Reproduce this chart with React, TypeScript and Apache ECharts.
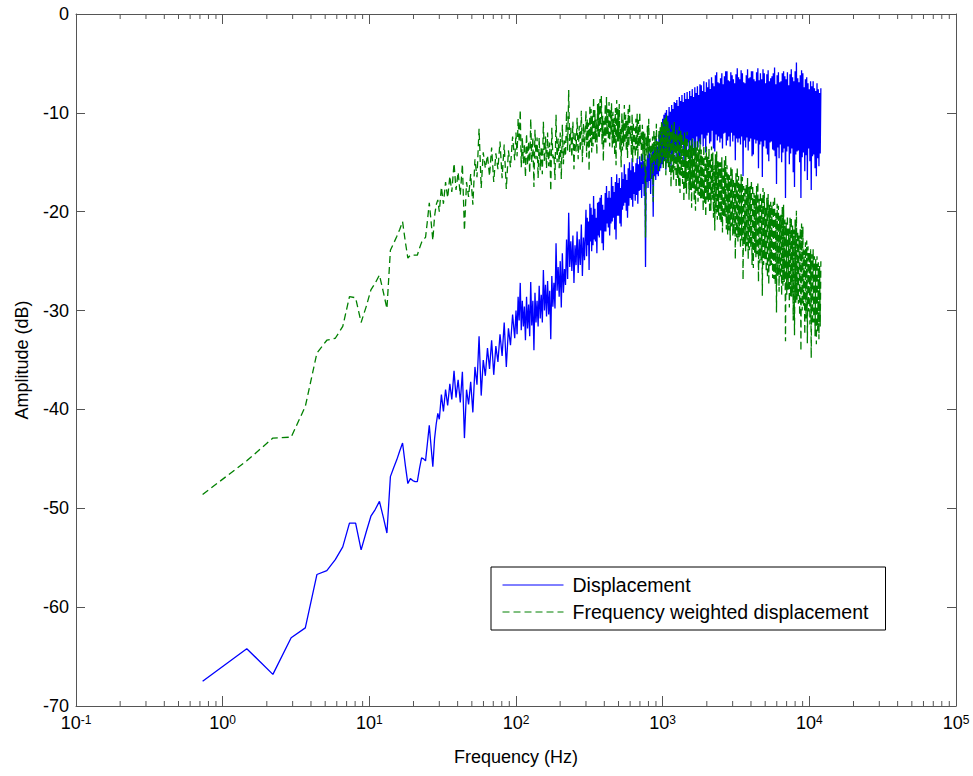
import React, { useEffect, useRef } from 'react';
import * as echarts from 'echarts';

// ---------- data ----------
const SERIES_NAMES = ['Displacement', 'Frequency weighted displacement'];

// low frequency bins (Hz)
const FREQ_LOW = [
  0.73, 1.46, 2.2, 2.93, 3.66, 4.39, 5.13, 5.86, 6.59, 7.32,
  8.06, 8.79, 9.52, 10.25, 10.99, 11.72, 12.45, 13.18, 13.92, 14.65,
  15.38, 16.11, 16.85, 17.58, 18.31, 19.04, 19.78, 20.51, 21.24, 21.97,
  22.71, 23.44, 24.17, 24.9, 25.63, 26.37, 27.1, 27.83, 28.56, 29.3,
];
const BLUE_LOW = [
  -67.5, -64.2, -66.8, -63.1, -62.1, -56.7, -56.3, -55.2, -53.9, -51.5,
  -51.5, -54.2, -52.4, -50.8, -50.1, -49.3, -50.9, -52.5, -46.8, -45.9,
  -45.1, -44.2, -43.4, -45.6, -47.5, -47.0, -47.2, -47.3, -47.3, -46.0,
  -44.9, -45.0, -45.2, -43.4, -41.6, -43.8, -45.8, -43.0, -41.5, -40.4,
];
const GREEN_LOW = [
  -48.6, -45.2, -42.9, -42.8, -39.7, -34.3, -33.0, -32.8, -31.6, -28.6,
  -28.7, -31.2, -29.6, -27.9, -27.2, -26.4, -28.1, -29.8, -23.9, -23.2,
  -22.5, -21.8, -21.0, -23.0, -24.7, -24.4, -24.4, -24.4, -24.4, -23.7,
  -23.1, -22.8, -22.6, -20.9, -19.1, -21.0, -22.9, -20.5, -19.3, -18.8,
];

// 30 - 100 Hz
const FREQ_MID = [
  30.0, 31.0, 32.0, 33.1, 34.2, 35.4, 36.5, 37.8, 39.0, 40.3,
  41.7, 43.1, 44.5, 46.0, 47.5, 49.1, 50.8, 52.5, 54.2, 56.0,
  57.9, 59.8, 61.8, 63.9, 66.0, 68.2, 70.5, 72.9, 75.3, 77.8,
  80.4, 83.1, 85.9, 88.8, 91.7, 94.8, 98.0,
];
const BLUE_MID = [
  -41.0, -38.5, -40.2, -38.0, -39.6, -37.4, -39.0, -36.1, -38.8, -37.0,
  -39.3, -36.2, -42.9, -38.0, -39.5, -37.2, -40.3, -35.7, -37.5, -32.6,
  -38.6, -35.0, -36.6, -33.8, -35.9, -33.0, -36.5, -33.6, -35.2, -32.4,
  -34.6, -31.2, -35.7, -31.8, -33.5, -30.4, -32.8,
];
const GREEN_MID = [
  -20.0, -17.5, -19.2, -17.0, -18.6, -16.4, -18.0, -15.1, -17.8, -16.0,
  -18.3, -15.2, -21.9, -17.0, -18.5, -16.2, -19.3, -14.7, -16.5, -11.6,
  -17.6, -14.0, -15.6, -14.3, -16.4, -13.5, -17.0, -14.1, -15.7, -12.9,
  -16.6, -13.2, -17.7, -13.8, -15.5, -12.4, -14.8,
];

// 100 - 300 Hz
const FREQ_MID2 = [
  100, 101.7, 103.4, 105.1, 106.9, 108.6, 110.4, 112.3, 114.1, 116.0,
  118.0, 119.9, 121.9, 124.0, 126.0, 128.1, 130.3, 132.5, 134.7, 136.9,
  139.2, 141.5, 143.9, 146.3, 148.7, 151.2, 153.7, 156.3, 158.9, 161.5,
  164.2, 167.0, 169.8, 172.6, 175.5, 178.4, 181.4, 184.4, 187.5, 190.6,
  193.8, 197.0, 200.3, 203.6, 207.0, 210.5, 214.0, 217.6, 221.2, 224.9,
  228.7, 232.5, 236.4, 240.3, 244.3, 248.4, 252.5, 256.8, 261.0, 265.4,
  269.8, 274.3, 278.9, 283.6, 288.3, 293.1,
];
const BLUE_MID2 = [
  -30.0, -32.4, -28.6, -31.0, -27.2, -32.0, -29.0, -31.6, -29.6, -33.0,
  -28.6, -31.8, -29.4, -32.6, -27.1, -31.5, -29.0, -34.0, -28.2, -31.2,
  -29.0, -31.6, -27.5, -30.8, -28.4, -31.2, -25.9, -30.0, -27.4, -30.6,
  -27.0, -30.4, -28.0, -32.9, -26.5, -29.6, -27.2, -29.8, -23.2, -28.0,
  -25.6, -28.6, -25.0, -29.7, -24.2, -28.2, -25.8, -27.4, -22.8, -26.8,
  -20.1, -25.6, -23.0, -26.0, -22.4, -27.2, -23.4, -25.4, -22.0, -26.2,
  -22.8, -25.4, -21.3, -26.5, -22.6, -24.9,
];
const GREEN_MID2 = [
  -12.0, -14.4, -10.6, -13.0, -9.7, -15.5, -12.5, -15.1, -13.1, -16.5,
  -12.1, -15.3, -12.9, -16.1, -10.6, -15.0, -12.5, -17.5, -11.7, -14.7,
  -12.5, -16.6, -12.5, -15.8, -13.4, -16.2, -10.9, -15.0, -12.4, -15.6,
  -12.0, -15.4, -13.0, -17.9, -11.5, -14.6, -14.2, -16.8, -10.2, -15.0,
  -12.6, -15.6, -12.0, -16.7, -11.2, -15.2, -12.8, -14.4, -9.8, -13.8,
  -7.7, -14.1, -11.5, -14.5, -10.9, -15.7, -11.9, -13.9, -10.5, -14.7,
  -11.3, -13.9, -9.8, -15.0, -11.1, -13.4,
];

// 300 - 1000 Hz
const FREQ_BAND = [
  300, 303, 306, 309, 312, 315, 319, 322, 325, 328,
  332, 335, 338, 341, 345, 348, 352, 356, 360, 363,
  367, 370, 374, 378, 382, 386, 390, 394, 398, 402,
  406, 410, 414, 418, 422, 426, 431, 435, 440, 444,
  448, 453, 458, 462, 467, 471, 476, 481, 486, 491,
  496, 501, 506, 511, 516, 521, 527, 532, 537, 542,
  548, 553, 559, 565, 571, 576, 582, 588, 594, 600,
  606, 612, 619, 625, 631, 637, 644, 650, 657, 663,
  670, 677, 684, 691, 698, 705, 712, 719, 727, 734,
  741, 748, 756, 764, 772, 779, 787, 795, 803, 811,
  820, 828, 836, 844, 853, 862, 871, 879, 888, 897,
  906, 915, 925, 934, 944, 953, 963, 972, 982, 991,
];
const BLUE_BAND = [
  -19.8, -24.5, -20.6, -23.4, -21.0, -25.9, -19.2, -23.0, -19.6, -24.0,
  -20.3, -23.4, -18.4, -22.8, -19.7, -23.0, -20.6, -24.2, -19.1, -22.4,
  -19.0, -22.6, -18.6, -21.9, -18.3, -23.2, -19.3, -23.9, -19.8, -22.0,
  -18.1, -22.0, -17.4, -21.2, -18.6, -21.6, -17.9, -22.4, -18.6, -21.2,
  -16.5, -21.0, -17.4, -20.6, -18.0, -21.8, -17.0, -22.8, -16.2, -20.4,
  -17.1, -20.4, -16.6, -21.2, -17.6, -21.5, -16.0, -19.8, -16.7, -19.4,
  -15.2, -19.1, -16.2, -19.9, -16.8, -20.6, -15.6, -19.4, -15.0, -18.6,
  -15.8, -18.8, -14.6, -19.5, -15.4, -18.2, -16.0, -18.9, -15.1, -18.3,
  -14.6, -19.2, -15.2, -17.9, -14.4, -17.8, -15.0, -18.6, -14.2, -17.2,
  -14.9, -18.4, -15.1, -25.6, -15.4, -17.0, -14.3, -17.6, -13.6, -16.9,
  -14.1, -18.2, -14.8, -16.7, -13.9, -20.5, -13.2, -16.4, -13.8, -16.8,
  -12.6, -16.2, -13.4, -16.4, -12.2, -15.9, -11.8, -15.6, -11.4, -15.2,
];
const GREEN_BAND = [
  -9.8, -14.5, -10.6, -13.4, -11.0, -15.9, -9.2, -13.0, -9.6, -14.0,
  -10.3, -13.4, -8.4, -12.8, -9.7, -13.0, -10.6, -14.2, -9.1, -12.4,
  -9.0, -12.6, -8.6, -11.9, -8.3, -13.2, -10.3, -14.9, -10.8, -13.0,
  -9.1, -13.0, -8.4, -12.2, -9.6, -12.6, -8.9, -13.4, -9.6, -12.2,
  -9.0, -13.5, -9.9, -13.1, -10.5, -14.3, -9.5, -15.3, -8.7, -12.9,
  -9.6, -12.9, -9.1, -13.7, -11.6, -15.5, -10.0, -13.8, -10.7, -13.4,
  -9.2, -13.1, -10.2, -13.9, -10.8, -14.6, -9.6, -13.4, -9.0, -12.6,
  -11.3, -14.3, -10.1, -15.0, -10.9, -13.7, -11.5, -14.4, -10.6, -13.8,
  -10.1, -14.7, -10.7, -13.4, -9.9, -13.3, -12.0, -15.6, -11.2, -14.2,
  -11.9, -15.4, -12.1, -22.6, -12.4, -14.0, -11.3, -14.6, -10.6, -13.9,
  -12.6, -16.7, -13.3, -15.2, -12.4, -19.0, -11.7, -14.9, -12.3, -15.3,
  -11.1, -14.7, -12.9, -15.9, -11.7, -15.4, -11.3, -15.1, -10.9, -14.7,
];

// 1 kHz - 12 kHz
const FREQ_HIGH = [
  1000, 1010, 1020, 1030, 1041, 1051, 1062, 1073, 1084, 1095,
  1106, 1117, 1129, 1140, 1152, 1163, 1175, 1187, 1199, 1211,
  1224, 1236, 1249, 1261, 1274, 1287, 1300, 1313, 1327, 1340,
  1354, 1367, 1381, 1395, 1410, 1424, 1438, 1453, 1468, 1483,
  1498, 1513, 1528, 1543, 1559, 1575, 1591, 1607, 1624, 1640,
  1657, 1674, 1691, 1708, 1725, 1742, 1760, 1778, 1796, 1814,
  1833, 1851, 1870, 1889, 1908, 1927, 1947, 1967, 1987, 2007,
  2028, 2048, 2069, 2090, 2111, 2132, 2154, 2176, 2198, 2220,
  2243, 2266, 2289, 2312, 2335, 2359, 2383, 2407, 2432, 2456,
  2481, 2506, 2532, 2557, 2583, 2609, 2636, 2663, 2690, 2717,
  2745, 2773, 2801, 2829, 2858, 2887, 2916, 2946, 2976, 3006,
  3036, 3067, 3098, 3129, 3161, 3193, 3226, 3259, 3292, 3325,
  3359, 3393, 3427, 3462, 3497, 3533, 3569, 3605, 3641, 3678,
  3716, 3753, 3791, 3830, 3869, 3908, 3948, 3988, 4028, 4069,
  4110, 4152, 4194, 4237, 4280, 4323, 4367, 4411, 4456, 4501,
  4547, 4593, 4640, 4687, 4734, 4782, 4831, 4880, 4929, 4979,
  5030, 5081, 5132, 5184, 5237, 5290, 5344, 5398, 5453, 5508,
  5564, 5621, 5678, 5735, 5793, 5852, 5912, 5972, 6032, 6093,
  6155, 6218, 6281, 6345, 6409, 6474, 6539, 6606, 6673, 6741,
  6809, 6878, 6948, 7018, 7089, 7161, 7234, 7308, 7382, 7457,
  7532, 7609, 7686, 7764, 7842, 7922, 8002, 8083, 8165, 8248,
  8332, 8417, 8502, 8588, 8675, 8763, 8852, 8942, 9033, 9125,
  9217, 9311, 9405, 9501, 9597, 9695, 9793, 9893, 9993, 10095,
  10197, 10301, 10405, 10511, 10617, 10725, 10833, 10943, 11054, 11167,
  11280, 11395, 11510, 11627, 11745, 11864, 11984,
];
const BLUE_HIGH = [
  -10.6, -15.2, -10.2, -14.4, -10.0, -15.8, -9.7, -14.6, -10.3, -15.0,
  -9.4, -14.0, -9.9, -15.5, -9.2, -14.2, -9.6, -14.8, -8.9, -13.8,
  -9.0, -14.6, -8.7, -13.6, -9.3, -14.4, -8.4, -15.1, -8.8, -13.4,
  -8.2, -13.2, -8.9, -15.0, -8.0, -13.6, -8.6, -14.2, -7.9, -13.0,
  -8.6, -13.8, -7.8, -12.8, -8.3, -14.6, -7.6, -12.6, -8.4, -13.9,
  -7.4, -14.4, -8.0, -12.4, -7.3, -13.5, -8.2, -12.9, -7.1, -13.2,
  -7.2, -12.2, -7.8, -13.4, -6.8, -12.6, -7.9, -14.0, -6.9, -12.3,
  -7.4, -12.0, -6.6, -13.1, -7.6, -12.9, -6.4, -11.8, -7.0, -13.6,
  -7.3, -13.9, -6.2, -12.2, -5.9, -12.8, -6.9, -12.4, -7.0, -13.0,
  -6.5, -12.6, -6.0, -13.6, -7.1, -12.1, -6.3, -12.0, -5.8, -13.3,
  -5.8, -12.8, -6.7, -12.4, -6.8, -13.4, -5.9, -12.0, -6.2, -12.9,
  -6.6, -12.3, -7.0, -14.8, -6.1, -12.6, -5.5, -13.0, -6.4, -12.6,
  -6.6, -13.2, -5.7, -12.4, -6.0, -16.4, -6.9, -12.8, -7.0, -13.5,
  -6.2, -12.5, -5.6, -13.8, -6.5, -12.9, -6.4, -12.6, -5.8, -14.4,
  -5.8, -14.2, -6.6, -12.7, -6.8, -13.1, -5.9, -12.8, -5.5, -15.6,
  -6.7, -13.2, -6.0, -12.9, -6.6, -16.5, -5.6, -13.4, -6.0, -12.8,
  -7.0, -13.6, -6.1, -14.2, -5.7, -14.9, -6.8, -13.0, -6.5, -12.9,
  -6.3, -13.7, -6.0, -13.8, -5.4, -14.4, -7.1, -17.2, -6.2, -13.5,
  -5.9, -14.6, -6.9, -13.2, -6.8, -15.0, -6.0, -14.0, -5.8, -13.6,
  -6.3, -18.6, -6.6, -13.9, -5.9, -13.4, -7.2, -15.2, -6.1, -14.1,
  -5.6, -13.6, -6.4, -16.0, -6.8, -17.5, -5.8, -14.2, -4.9, -13.9,
  -6.5, -13.8, -6.9, -15.0, -6.2, -18.6, -5.7, -14.5, -6.0, -14.0,
  -7.4, -15.9, -6.6, -14.3, -6.4, -16.8, -7.0, -13.6, -7.6, -14.9,
  -6.8, -17.8, -7.3, -14.4, -6.8, -14.2, -7.5, -15.6, -7.8, -16.4,
  -7.0, -14.6, -7.6, -15.4, -8.0, -14.1, -7.5,
];
const GREEN_HIGH = [
  -11.1, -15.7, -10.7, -14.9, -10.5, -16.3, -10.2, -15.1, -10.8, -15.5,
  -11.4, -16.0, -11.9, -17.5, -11.2, -16.2, -11.6, -16.8, -10.9, -15.8,
  -12.0, -17.6, -11.7, -16.6, -12.3, -17.4, -11.4, -18.1, -11.8, -16.4,
  -12.2, -17.2, -12.9, -19.0, -12.0, -17.6, -12.6, -18.2, -11.9, -17.0,
  -13.6, -18.8, -12.8, -17.8, -13.3, -19.6, -12.6, -17.6, -13.4, -18.9,
  -12.9, -19.9, -13.5, -17.9, -12.8, -19.0, -13.7, -18.4, -12.6, -18.7,
  -13.7, -18.7, -14.3, -19.9, -13.3, -19.1, -14.4, -20.5, -13.4, -18.8,
  -14.4, -19.0, -13.6, -20.1, -14.6, -19.9, -13.4, -18.8, -14.0, -20.6,
  -15.3, -21.9, -14.2, -20.2, -13.9, -20.8, -14.9, -20.4, -15.0, -21.0,
  -15.0, -21.1, -14.5, -22.1, -15.6, -20.6, -14.8, -20.5, -14.3, -21.8,
  -15.3, -22.3, -16.2, -21.9, -16.3, -22.9, -15.4, -21.5, -15.7, -22.4,
  -16.6, -22.3, -17.0, -24.8, -16.1, -22.6, -15.5, -23.0, -16.4, -22.6,
  -17.1, -23.7, -16.2, -22.9, -16.5, -26.9, -17.4, -23.3, -17.5, -24.0,
  -17.2, -23.5, -16.6, -24.8, -17.5, -23.9, -17.4, -23.6, -16.8, -25.4,
  -17.3, -25.7, -18.1, -24.2, -18.3, -24.6, -17.4, -24.3, -17.0, -27.1,
  -18.7, -25.2, -18.0, -24.9, -18.6, -28.5, -17.6, -25.4, -18.0, -24.8,
  -19.5, -26.1, -18.6, -26.7, -18.2, -27.4, -19.3, -25.5, -19.0, -25.4,
  -19.3, -26.7, -19.0, -26.8, -18.4, -27.4, -20.1, -30.2, -19.2, -26.5,
  -19.4, -28.1, -20.4, -26.7, -20.3, -28.5, -19.5, -27.5, -19.3, -27.1,
  -20.8, -33.1, -21.1, -28.4, -20.4, -27.9, -21.7, -29.7, -20.6, -28.6,
  -20.6, -28.6, -21.4, -31.0, -21.8, -32.5, -20.8, -29.2, -19.9, -28.9,
  -22.0, -29.3, -22.4, -30.5, -21.7, -34.1, -21.2, -30.0, -21.5, -29.5,
  -23.9, -32.4, -23.1, -30.8, -22.9, -33.3, -23.5, -30.1, -24.1, -31.4,
  -23.8, -34.8, -24.3, -31.4, -23.8, -31.2, -24.5, -32.6, -24.8, -33.4,
  -24.5, -32.1, -25.1, -32.9, -25.5, -31.6, -25.0,
];

// minor tick positions of the log frequency axis
const MINOR_TICKS = [
  0.2, 0.3, 0.4, 0.5, 0.6, 0.7, 0.8, 0.9,
  2, 3, 4, 5, 6, 7, 8, 9,
  20, 30, 40, 50, 60, 70, 80, 90,
  200, 300, 400, 500, 600, 700, 800, 900,
  2000, 3000, 4000, 5000, 6000, 7000, 8000, 9000,
  20000, 30000, 40000, 50000, 60000, 70000, 80000, 90000,
];

const X_MIN = 0.1;
const X_MAX = 100000;
const Y_MIN = -70;
const Y_MAX = 0;
const Y_STEP = 10;

const FONT = '"Liberation Sans", Arial, Helvetica, sans-serif';
const AXIS_COLOR = '#555';

export default function App() {
  const ref = useRef<HTMLDivElement>(null);

  useEffect(() => {
    if (!ref.current) return;
    const chart = echarts.init(ref.current, null, { renderer: 'svg' });

    const FREQ = [...FREQ_LOW, ...FREQ_MID, ...FREQ_MID2, ...FREQ_BAND, ...FREQ_HIGH];
    const BLUE = [...BLUE_LOW, ...BLUE_MID, ...BLUE_MID2, ...BLUE_BAND, ...BLUE_HIGH];
    const GREEN = [...GREEN_LOW, ...GREEN_MID, ...GREEN_MID2, ...GREEN_BAND, ...GREEN_HIGH];
    const n = Math.min(FREQ.length, BLUE.length, GREEN.length);
    const blueData: number[][] = [];
    const greenData: number[][] = [];
    for (let i = 0; i < n; i++) {
      blueData.push([FREQ[i], BLUE[i]]);
      greenData.push([FREQ[i], GREEN[i]]);
    }

    const xCommon: any = {
      type: 'log',
      logBase: 10,
      min: X_MIN,
      max: X_MAX,
      splitNumber: 6,
      splitLine: { show: false },
      axisLine: { show: true, onZero: false, lineStyle: { color: AXIS_COLOR, width: 1 } },
      axisTick: { show: true, inside: true, length: 10, lineStyle: { color: AXIS_COLOR, width: 1 } },
      minorTick: { show: false },
    };
    const yCommon: any = {
      type: 'value',
      min: Y_MIN,
      max: Y_MAX,
      interval: Y_STEP,
      splitLine: { show: false },
      axisLine: { show: true, onZero: false, lineStyle: { color: AXIS_COLOR, width: 1 } },
      axisTick: { show: true, inside: true, length: 9, lineStyle: { color: AXIS_COLOR, width: 1 } },
    };

    chart.setOption({
      animation: false,
      backgroundColor: '#ffffff',
      textStyle: { fontFamily: FONT },
      grid: { left: 76, right: 17, top: 14, bottom: 70, containLabel: false, outerBoundsMode: 'none' },
      xAxis: [
        {
          ...xCommon,
          position: 'bottom',
          name: 'Frequency (Hz)',
          nameLocation: 'middle',
          nameGap: 42,
          nameTextStyle: { fontSize: 18, color: '#000', fontFamily: FONT },
          axisLabel: {
            show: true,
            margin: 8,
            color: '#000',
            fontFamily: FONT,
            formatter: (v: number) => `{base|10}{sup|${Math.round(Math.log10(v))}}`,
            rich: {
              base: { fontSize: 18, lineHeight: 18, padding: [6, 0, 0, 0], verticalAlign: 'bottom', color: '#000', fontFamily: FONT },
              sup: { fontSize: 12, lineHeight: 12, verticalAlign: 'top', color: '#000', fontFamily: FONT },
            },
          },
        },
        {
          ...xCommon,
          position: 'top',
          axisLabel: { show: false },
        },
      ],
      yAxis: [
        {
          ...yCommon,
          position: 'left',
          name: 'Amplitude (dB)',
          nameLocation: 'middle',
          nameGap: 45,
          nameTextStyle: { fontSize: 18, color: '#000', fontFamily: FONT },
          axisLabel: { show: true, fontSize: 18, lineHeight: 12, color: '#000', margin: 7, fontFamily: FONT },
        },
        {
          ...yCommon,
          position: 'right',
          axisLabel: { show: false },
        },
      ],
      legend: {
        show: true,
        data: SERIES_NAMES,
        orient: 'vertical',
        left: 491,
        top: 567,
        padding: [8, 0, 8, 11],
        itemWidth: 61,
        itemHeight: 14,
        itemGap: 7,
        borderColor: '#000',
        borderWidth: 1,
        backgroundColor: '#ffffff',
        selectedMode: false,
        itemStyle: { opacity: 0, borderWidth: 0 },
        lineStyle: { width: 1 },
        textStyle: {
          fontSize: 19.5,
          lineHeight: 20,
          color: '#000',
          fontFamily: FONT,
          padding: [0, 0, 0, 4],
          width: 313,
        },
      },
      series: [
        {
          name: SERIES_NAMES[0],
          type: 'line',
          data: blueData,
          xAxisIndex: 0,
          yAxisIndex: 0,
          symbol: 'none',
          showSymbol: false,
          silent: true,
          color: '#0000ff',
          lineStyle: { color: '#0000ff', width: 1.3 },
          emphasis: { disabled: true },
        },
        {
          name: SERIES_NAMES[1],
          type: 'line',
          data: greenData,
          xAxisIndex: 0,
          yAxisIndex: 0,
          symbol: 'none',
          showSymbol: false,
          silent: true,
          color: '#008000',
          lineStyle: { color: '#008000', width: 1.3, type: [7, 4] },
          emphasis: { disabled: true },
        },
        {
          name: 'minor-ticks',
          type: 'custom',
          xAxisIndex: 0,
          yAxisIndex: 0,
          silent: true,
          data: MINOR_TICKS.map((f) => [f, Y_MIN]),
          encode: { x: 0, y: 1 },
          renderItem: (_params: any, api: any) => {
            const f = api.value(0);
            const b = api.coord([f, Y_MIN]);
            const t = api.coord([f, Y_MAX]);
            const style = { stroke: AXIS_COLOR, lineWidth: 1 };
            return {
              type: 'group',
              children: [
                { type: 'line', shape: { x1: b[0], y1: b[1], x2: b[0], y2: b[1] - 5 }, style },
                { type: 'line', shape: { x1: t[0], y1: t[1], x2: t[0], y2: t[1] + 5 }, style },
              ],
            };
          },
        },
      ],
    });

    return () => chart.dispose();
  }, []);

  return (
    <div
      ref={ref}
      style={{ position: 'fixed', left: 0, top: 0, width: 973, height: 776, background: '#fff' }}
    />
  );
}
